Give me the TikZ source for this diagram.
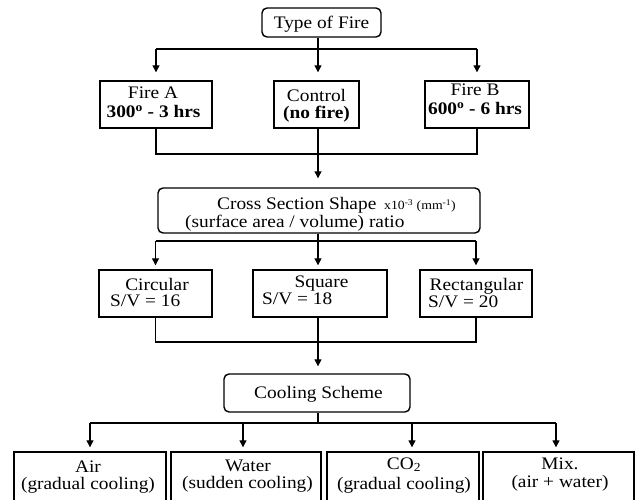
\documentclass[tikz,border=0pt]{standalone}
\usepackage{fontspec}
\setmainfont{Liberation Serif}[FakeStretch=1.1]
\usetikzlibrary{arrows.meta}
\begin{document}
\begin{tikzpicture}[x=1pt,y=-1pt,
  box/.style={draw, line width=1.4pt, inner sep=0pt, minimum width=#1},
  rbox/.style={box=#1, rounded corners=5pt},
  ln/.style={line width=1.2pt},
  arr/.style={ln, -{Triangle[length=7pt,width=7pt]}},
  txt/.style={inner sep=0pt, anchor=base, font=\fontsize{17.6}{18}\selectfont},
  txtl/.style={txt, anchor=base west}]
\useasboundingbox (0,0) rectangle (635,500);
\fill[white] (0,0) rectangle (635,500);
\clip (0,0) rectangle (635,500);

% boxes
\node[rbox=119pt, minimum height=29pt] (tf) at (321.5,22.5) {};
\node[box=112pt, minimum height=47pt] (fa) at (156,104.5) {};
\node[box=85pt, minimum height=47pt] (ct) at (316.5,104.5) {};
\node[box=104pt, minimum height=47pt] (fb) at (477,104.5) {};
\node[rbox=322pt, minimum height=45pt] (cs) at (319,210.5) {};
\node[box=113pt, minimum height=47pt] (ci) at (155.5,293.5) {};
\node[box=134pt, minimum height=47pt] (sq) at (320,293.5) {};
\node[box=112pt, minimum height=47pt] (re) at (476,293.5) {};
\node[rbox=186pt, minimum height=38pt] (cool) at (317,393) {};
\node[box=152pt, minimum height=63pt] (air) at (90,483.5) {};
\node[box=150pt, minimum height=63pt] (wat) at (246,483.5) {};
\node[box=152pt, minimum height=63pt] (co) at (403,483.5) {};
\node[box=151pt, minimum height=63pt] (mix) at (558.5,483.5) {};

% texts
\node[txt] (tfT) at (321.5,28.3) {Type of Fire};
\node[txt] (faT1) at (153,99) {Fire A};
\node[txt] (faT2) at (153.5,117.5) {\bfseries 300\textsuperscript{o} - 3 hrs};
\node[txt] (ctT1) at (316.5,101.7) {Control};
\node[txt] (ctT2) at (316.5,119) {\bfseries (no fire)};
\node[txt] (fbT1) at (475,96) {Fire B};
\node[txt] (fbT2) at (475,114.5) {\bfseries 600\textsuperscript{o} - 6 hrs};
\node[txtl] (csT1) at (217,209.5) {Cross Section Shape\, {\fontsize{12.5}{13}\selectfont x10\textsuperscript{-3} (mm\textsuperscript{-1})}};
\node[txtl] (csT2) at (185,227.5) {(surface area / volume) ratio};
\node[txt] (ciT1) at (157,290) {Circular};
\node[txtl] (ciT2) at (110,306) {S/V = 16};
\node[txt] (sqT1) at (321.5,287) {Square};
\node[txtl] (sqT2) at (262,304) {S/V = 18};
\node[txt] (reT1) at (476.5,290.7) {Rectangular};
\node[txtl] (reT2) at (428,307) {S/V = 20};
\node[txt] (coolT) at (318.5,398) {Cooling Scheme};
\node[txt] (airT1) at (88,472) {Air};
\node[txt] (airT2) at (88,489) {(gradual cooling)};
\node[txt] (watT1) at (248,471) {Water};
\node[txt] (watT2) at (247.5,488) {(sudden cooling)};
\node[txt] (coT1) at (404,469) {CO\textsubscript{2}};
\node[txt] (coT2) at (404,489.5) {(gradual cooling)};
\node[txt] (mixT1) at (560,469) {Mix.};
\node[txt] (mixT2) at (560,487) {(air + water)};

% connectors: level 1
\coordinate (j1) at (318,49);
\draw[ln] (j1 |- tf.south) -- (j1);
\draw[ln] (fa.north |- j1) -- (fb.north |- j1);
\draw[arr] (fa.north |- j1) -- ([yshift=8pt]fa.north);
\draw[arr] (j1) -- ([yshift=8pt]j1 |- ct.north);
\draw[arr] (fb.north |- j1) -- ([yshift=8pt]fb.north);

% level 2
\coordinate (j2) at (318,154);
\draw[ln] (fa.south) |- (fb.south |- j2) -- (fb.south);
\draw[arr] (j2 |- ct.south) -- ([yshift=9pt]j2 |- cs.north);

% level 3
\coordinate (j3) at (318,241);
\draw[ln] (j3 |- cs.south) -- (j3);
\draw[ln] (ci.north |- j3) -- (re.north |- j3);
\draw[arr] (ci.north |- j3) -- ([yshift=4pt]ci.north);
\draw[arr] (j3) -- ([yshift=4pt]j3 |- sq.north);
\draw[arr] (re.north |- j3) -- ([yshift=4pt]re.north);

% level 4
\coordinate (j4) at (318,342);
\draw[ln] (ci.south) |- (re.south |- j4) -- (re.south);
\draw[ln] (j4 |- sq.south) -- (j4);
\draw[arr] (j4) -- ([yshift=7pt]j4 |- cool.north);

% level 5
\coordinate (j5) at (318,423);
\coordinate (bA) at (90,423);
\coordinate (bW) at (243,423);
\coordinate (bC) at (412,423);
\coordinate (bM) at (556,423);
\draw[ln] (j5 |- cool.south) -- (j5);
\draw[ln] (bA) -- (bM);
\draw[arr] (bA) -- ([yshift=4pt]bA |- air.north);
\draw[arr] (bW) -- ([yshift=4pt]bW |- wat.north);
\draw[arr] (bC) -- ([yshift=4pt]bC |- co.north);
\draw[arr] (bM) -- ([yshift=4pt]bM |- mix.north);
\end{tikzpicture}
\end{document}
